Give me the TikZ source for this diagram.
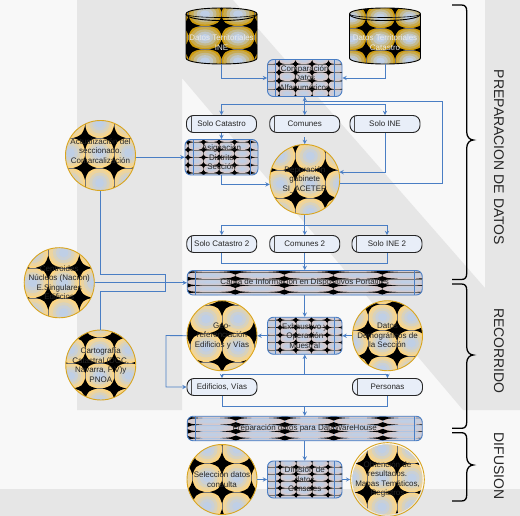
\documentclass[tikz,border=0pt]{standalone}
\usepackage{fontspec}
\setmainfont{Liberation Sans}
\usetikzlibrary{shapes,arrows,calc,positioning,backgrounds}

\definecolor{paper}{HTML}{F8F8F8}
\definecolor{band}{HTML}{E6E6E6}
\definecolor{linkblue}{HTML}{4A7EC4}
\definecolor{discofill}{HTML}{FFD680}
\definecolor{discoedge}{HTML}{D9A520}
\definecolor{procfill}{HTML}{D9C8C8}
\definecolor{golddark}{HTML}{CC9A0E}
\definecolor{solofill}{HTML}{E8EEF8}
\definecolor{tileblob}{HTML}{BFCFE6}

% args: half extent, base colour, offset of one star from the centre, tile size, star share of tile
\newcommand{\tilefield}[9]{%
  \pgfmathtruncatemacro{\ia}{floor((-#1-(#4))/#6)}
  \pgfmathtruncatemacro{\ib}{ceil((#1-(#4))/#6)}
  \pgfmathtruncatemacro{\ja}{floor((-#2-(#5))/#7)}
  \pgfmathtruncatemacro{\jb}{ceil((#2-(#5))/#7)}
  \pgfmathtruncatemacro{\nni}{\ib-\ia}
  \pgfmathtruncatemacro{\nnj}{\jb-\ja}
  \pgfmathsetmacro{\startx}{(#4)+\ia*#6}
  \pgfmathsetmacro{\starty}{(#5)+\ja*#7}
  \pgfmathsetmacro{\starw}{#8*#6}
  \pgfmathsetmacro{\starh}{#9*#7}
  \fill[#3] (-#1,-#2) rectangle (#1,#2);
  \foreach \ii in {0,...,\nni} \foreach \jj in {0,...,\nnj} {
    \pgfmathsetmacro{\xb}{\startx+(\ii+.5)*#6}
    \pgfmathsetmacro{\yb}{\starty+(\jj+.5)*#7}
    \foreach \kk/\rr in {30/.9,60/.7,85/.5,100/.3}
      \fill[tileblob!\kk!#3] (\xb,\yb) ellipse [x radius=\rr*.5*#6 pt,y radius=\rr*.5*#7 pt];
  }
  \foreach \ii in {0,...,\nni} {
    \pgfmathsetmacro{\xa}{\startx+\ii*#6}
    \draw[tile line] (\xa,-#2) -- (\xa,#2);
  }
  \foreach \jj in {0,...,\nnj} {
    \pgfmathsetmacro{\ya}{\starty+\jj*#7}
    \draw[tile line] (-#1,\ya) -- (#1,\ya);
  }
  \foreach \ii in {0,...,\nni} \foreach \jj in {0,...,\nnj} {
    \pgfmathsetmacro{\xa}{\startx+\ii*#6}
    \pgfmathsetmacro{\ya}{\starty+\jj*#7}
    \fill[black] (\xa-\starw,\ya) .. controls (\xa-.25*\starw,\ya-.25*\starh) .. (\xa,\ya-\starh)
      .. controls (\xa+.25*\starw,\ya-.25*\starh) .. (\xa+\starw,\ya)
      .. controls (\xa+.25*\starw,\ya+.25*\starh) .. (\xa,\ya+\starh)
      .. controls (\xa-.25*\starw,\ya+.25*\starh) .. cycle;
  }}

% node, offset, tile size
\newcommand{\disctile}[5]{%
  \begin{scope}[shift={(#1.center)},x=1pt,y=-1pt]
    \clip (0,0) circle [radius=35pt];
    \tilefield{36}{36}{discofill}{#2}{#3}{#4}{#5}{.40}{.40}
  \end{scope}}
% node, half size, offset, tile size
\newcommand{\proctile}[7]{%
  \begin{scope}[shift={(#1.center)},x=1pt,y=-1pt]
    \clip[rounded corners=6pt] (-#2,-#3) rectangle (#2,#3);
    \tilefield{#2}{#3}{procfill}{#4}{#5}{#6}{#7}{.32}{.38}
    \draw[linkblue,line width=.9pt] (-#2+8,-#3) -- (-#2+8,#3);
    \draw[linkblue,line width=.9pt] (#2-8,-#3) -- (#2-8,#3);
  \end{scope}}
% node, offset, tile size
\newcommand{\territile}[5]{%
  \begin{scope}[shift={(#1.center)},x=1pt,y=-1pt]
    \begin{scope}
      \clip (-35.5,-22) .. controls (-35.5,-30) and (35.5,-30) .. (35.5,-22) -- (35.5,22)
        .. controls (35.5,30) and (-35.5,30) .. (-35.5,22) -- cycle;
      \tilefield{36}{29}{golddark}{#2}{#3}{#4}{#5}{.36}{.40}
    \end{scope}
    \draw[black,line width=.9pt] (-35.5,-22) .. controls (-35.5,-30) and (35.5,-30) .. (35.5,-22) -- (35.5,22)
      .. controls (35.5,30) and (-35.5,30) .. (-35.5,22) -- cycle;
    \draw[black,line width=.9pt] (-35.5,-22) .. controls (-35.5,-13.3) and (35.5,-13.3) .. (35.5,-22);
    \draw[black,line width=.6pt] (-35.5,-22) .. controls (-35.5,-17.3) and (35.5,-17.3) .. (35.5,-22);
  \end{scope}}

\newcommand{\sectbrace}[3]{%
  \draw[sectbrace] (452,#1) -- (461.5,#1) .. controls (465,#1) and (466.7,#1+2) .. (466.7,#1+6)
    -- (466.7,#2-8) .. controls (466.7,#2-3) and (470,#2) .. (473.3,#2)
    .. controls (470,#2) and (466.7,#2+3) .. (466.7,#2+8)
    -- (466.7,#3-6) .. controls (466.7,#3-2) and (465,#3) .. (461.5,#3) -- (452,#3);}

\tikzset{
  tile line/.style={black!55,line width=.2pt},
  textbase/.style={align=center,inner sep=0pt,text=black!85,font=\fontsize{8}{9.5}\selectfont},
  disco/.style={textbase,circle,draw=discoedge,line width=.9pt,minimum size=70pt},
  proc/.style={textbase,rectangle,rounded corners=6pt,draw=linkblue,line width=.9pt,
    minimum width=74.5pt,minimum height=37pt},
  longproc/.style={proc,minimum width=235pt,minimum height=24.5pt},
  solobox/.style={textbase,rectangle,rounded corners=7pt,draw=black!85,line width=.9pt,fill=solofill,
    minimum width=70pt,minimum height=17pt,
    path picture={\draw[black!70,line width=.9pt] ([xshift=4.5pt]path picture bounding box.north west) -- ([xshift=4.5pt]path picture bounding box.south west);}},
  terri/.style={textbase,text=white!92!black,rectangle,minimum width=71pt,minimum height=56pt},
  sectbrace/.style={black,line width=1.3pt},
  sectlabel/.style={rotate=-90,inner sep=0pt,text=black!85,font=\fontsize{14}{16}\selectfont},
  link/.style={linkblue,line width=.9pt},
}

\begin{document}
\begin{tikzpicture}[%
>=stealth,
x=1pt,y=-1pt,
on grid,
every edge/.style={draw,link}
]
\useasboundingbox (0,0) rectangle (520,516);

% preparacion
\node[proc] (compara) at (304.75,78) {Comparación\\Datos\\Alfanuméricos};
\node[terri] (ine) [above left=42pt and 83.25pt of compara] {\mbox{}\\\mbox{}\\Datos Territoriales\\INE};
\node[terri] (catastro) [above right=42pt and 80.25pt of compara] {\mbox{}\\\mbox{}\\Datos Territoriales\\Catastro};
\node[solobox] (solocat) [below left=46pt and 83.25pt of compara] {Solo Catastro};
\node[solobox] (comunes) [below=46pt of compara] {Comunes};
\node[solobox] (soloine) [below right=46pt and 80.25pt of compara] {Solo INE};
\node[proc,minimum width=73pt,minimum height=35.5pt] (asigna) [below=33.25pt of solocat] {Asignación\\Distrito\\Sección};
\node[disco] (depura) [below=55.5pt of comunes] {Depuración\\gabinete\\SI\_ACETER};
\node[disco] (actual) [above left=1.75pt and 121pt of asigna] {Actualización del\\seccionado.\\Comarcalización\\\mbox{}};
\node[solobox] (comunes2) [below=64.5pt of depura] {Comunes 2};
\node[solobox] (solocat2) [left=83pt of comunes2] {Solo Catastro 2};
\node[solobox] (soloine2) [right=82.25pt of comunes2] {Solo INE 2};
\node[longproc] (carga) [below=38.75pt of comunes2] {Carga de Información en Dispositivos Portátiles};
\node[disco] (centroide) [left=245.5pt of carga] {Centroides\\Núcleos (Nación)\\E.Singulares\\Edificios};
\node[disco] (carto) [below left=82.25pt and 204pt of carga] {Cartografía\\Catastral (DGC,\\Navarra, P.V)y\\PNOA};

% recorrido
\node[proc] (exhaust) [below=53pt of carga] {Exhaustivo y\\Operación\\Muestral};
\node[disco] (georef) [left=82.75pt of exhaust] {Geo-\\referenciación\\Edificios y Vías};
\node[disco] (demog) [right=82.75pt of exhaust] {Datos\\Demográficos de\\la Sección};
\node[solobox] (edif) [below=51.25pt of georef] {Edificios, Vías};
\node[solobox] (personas) [below=51.25pt of demog] {Personas};
\node[longproc] (prepdw) [below=92.75pt of exhaust] {Preparación datos para DataWareHouse};

% difusion
\node[proc] (difunde) [below=51pt of prepdw] {Difusión de\\datos\\Censales};
\node[disco] (selec) [left=82.75pt of difunde] {Selección datos\\consulta};
\node[disco] (obten) [right=82.75pt of difunde] {Obtención de\\resultados.\\Mapas Temáticos,\\Registros};

% backdrop and textures go under the nodes
\begin{scope}[on background layer,x=1pt,y=-1pt]
\fill[paper] (0,0) rectangle (520,516);
\fill[band] (77,0) -- (233,0) -- (485,288) -- (485,0) -- (520,0) -- (520,410) -- (463,410)
  -- (182,78) -- (182,410) -- (77,410) -- cycle;
\fill[band] (0,488.5) rectangle (520,516);
\territile{ine}{0}{-10.25}{33}{23.5}
\territile{catastro}{10}{-8}{29}{22}
\proctile{compara}{37.25}{18.5}{-25.75}{-14}{16.5}{8.4}
\proctile{asigna}{36.5}{17.75}{-33.5}{-15.25}{15.5}{7.7}
\proctile{exhaust}{37.25}{18.5}{-24.75}{-15.75}{15.7}{7.5}
\proctile{difunde}{37.25}{18.5}{-24.75}{-12.5}{16}{7}
\proctile{carga}{117.5}{12.25}{-69.5}{-10.75}{49}{6.7}
\begin{scope}[tile line/.style={linkblue!45,line width=.3pt}]
\proctile{prepdw}{117.5}{12.25}{-69}{-10.5}{49}{6.7}
\end{scope}
\disctile{depura}{-9.5}{-9.5}{30}{28}
\disctile{actual}{-15.5}{-17.5}{29}{30}
\disctile{centroide}{-11}{-15}{31}{30}
\disctile{carto}{-15.5}{-2}{29}{25.5}
\disctile{georef}{0}{-2.5}{32}{28.5}
\disctile{demog}{9.5}{-5.5}{29}{26}
\disctile{selec}{0}{-16}{29.5}{28.5}
\disctile{obten}{-20.5}{-16}{30}{29}
\end{scope}

% helpers for the elbows
\coordinate[below=8pt of compara.south] (splitA);
\coordinate (retorno) at (442,101.5);
\coordinate[below=10.5pt of depura.south] (splitB);
\coordinate[below=10.5pt of comunes2.south] (mergeA);
\coordinate (boxA) at (165.5,274.5);
\coordinate (boxB) at (165.5,291);
\coordinate (boxC) at (166,335.5);
\coordinate[below=20pt of exhaust.south] (splitC);
\coordinate (mergeB) at ($(edif.south -| prepdw)+(0,10.5)$);

% datos de entrada
\draw[link,->] (ine.south) |- (compara.west);
\draw[link,->] (catastro.south) |- (compara.east);
\path[->] (compara) edge (comunes);
\draw[link,->] (splitA) -| (solocat);
\draw[link,->] (splitA) -| (soloine);
\draw[link,->] (depura.-6) -| (retorno) -- (retorno -| compara.south) -- (compara.south);

\path[->] (solocat) edge (asigna);
\path[->] (comunes) edge [shorten <=4.5pt] (depura);
\draw[link,->] (soloine.south) |- (depura.12);
\path[->] (actual.east |- asigna) edge (asigna);
\draw[link,->] (asigna.south) |- (depura.188);

\path[->] (depura) edge (comunes2);
\draw[link,->] (splitB) -| (solocat2);
\draw[link,->] (splitB) -| (soloine2);
\path[->] (comunes2) edge (carga);
\draw[link] (solocat2.south) |- (mergeA);
\draw[link] (soloine2.south) |- (mergeA);

% entradas a dispositivos
\draw[link] (actual.south) |- (boxA) -- (boxB) -- (boxB -| carto.north) -- (carto.north);
\path[->] (centroide) edge (carga);

% recorrido
\path[->] (carga) edge (exhaust);
\path[->] (exhaust) edge (georef);
\path[->] (demog) edge (exhaust);
\path[<-] (exhaust) edge (splitC);
\draw[link,->] (splitC) -| (edif);
\draw[link,->] (splitC) -| (personas);
\draw[link,->] (georef.west) -- (boxC) |- (edif.west);
\draw[link] (edif.south) |- (mergeB);
\draw[link] (personas.south) |- (mergeB);
\path[->] (mergeB) edge (prepdw);

% difusion
\path[->] (prepdw) edge (difunde);
\path[->] (selec) edge (difunde);
\path[->] (difunde) edge (obten);

% llaves y rotulos
\sectbrace{5}{140}{279.5}
\sectbrace{284}{355}{428.3}
\sectbrace{432.7}{465}{501}
\node[sectlabel] (lprep) at (499,157.5) {PREPARACION DE DATOS};
\node[sectlabel] (lreco) at (499,351) {RECORRIDO};
\node[sectlabel] (ldifu) at (499,466) {DIFUSION};
\end{tikzpicture}
\end{document}
